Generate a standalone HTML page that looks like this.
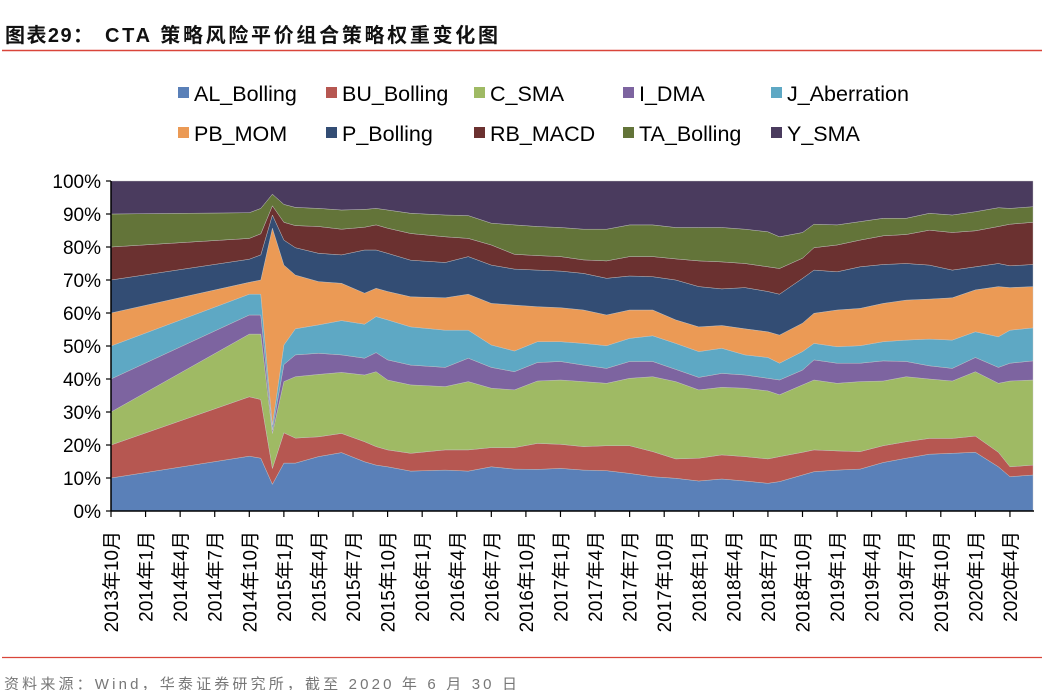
<!DOCTYPE html>
<html><head><meta charset="utf-8"><style>
body{margin:0;background:#fff;}
svg{display:block;font-family:"Liberation Sans","Noto Sans CJK SC",sans-serif;}
</style></head><body>
<svg id="chart" width="1042" height="690" viewBox="0 0 1042 690">
<text x="5" y="42" font-size="20" font-weight="bold" fill="#111" textLength="88" lengthAdjust="spacing">图表29：</text>
<text x="105" y="42" font-size="20" font-weight="bold" fill="#111" textLength="393" lengthAdjust="spacing">CTA 策略风险平价组合策略权重变化图</text>
<line x1="2" y1="50.5" x2="1042" y2="50.5" stroke="#d9453a" stroke-width="1.5"/>
<g id="legend"></g>
<g id="areas"></g>
<g id="axes"></g>
<line x1="2" y1="657.5" x2="1042" y2="657.5" stroke="#d9453a" stroke-width="1.2"/>
<text x="4" y="689" font-size="15" fill="#777" textLength="513" lengthAdjust="spacing">资料来源：Wind，华泰证券研究所，截至 2020 年 6 月 30 日</text>
</svg>
<script>
const months=[0,12,13,14,15,16,18,20,22,23,24,26,29,31,33,35,37,39,41,43,45,47,49,51,53,55,57,58,60,61,63,65,67,69,71,73,75,77,78,80];
const seriesNames=["AL_Bolling","BU_Bolling","C_SMA","I_DMA","J_Aberration","PB_MOM","P_Bolling","RB_MACD","TA_Bolling","Y_SMA"];
const AL=[10,16.6,16,8.1,14.5,14.5,16.5,17.7,14.9,13.9,13.4,12.1,12.4,12.1,13.4,12.7,12.6,12.9,12.4,12.2,11.4,10.4,9.9,9.1,9.7,9.1,8.4,8.9,10.9,11.9,12.4,12.7,14.7,16,17.2,17.5,17.8,13.4,10.4,10.9];
const BU=[10,18,17.8,4.8,9.2,7.6,6,5.8,6.1,5.6,5.1,5.4,6.1,6.4,5.8,6.5,7.9,7.3,7.1,7.6,8.4,7.6,5.9,6.9,7.3,7.4,7.4,7.6,6.9,6.6,5.8,5.3,5.1,5,4.8,4.5,4.9,4.4,3,3];
const C=[10,19,19.8,10.6,15.5,18.6,18.9,18.5,20.2,22.7,21.2,20.7,19.2,20.7,18,17.5,18.9,19.5,19.7,18.9,20.4,22.7,23.4,20.7,20.5,20.7,20.6,18.7,20.4,21.2,20.5,21.2,19.6,19.7,18,17.4,19.5,20.9,26,25.8];
const I=[10,5.8,5.8,1,5.2,6.6,6.4,5.3,5.1,5.8,6.1,6,5.8,7.1,6.3,5.5,5.6,5.6,5,4.5,5.1,4.6,3.7,3.8,4.2,4,3.8,4.5,4.5,6.1,6.1,5.6,6.1,4.6,4,3.8,4.3,4.8,5.4,5.8];
const J=[10,6.3,6.3,1.5,5.9,7.9,8.6,10.4,10.3,10.9,12.1,11.6,11.3,8.5,6.8,6.3,6.3,6,6.6,6.9,7,7.8,7.9,7.8,7.6,6.1,6.3,5.1,5.6,5,5,5.3,5.8,6.5,8.1,8.6,7.8,9.3,10,10];
const PB=[10,3.6,4.3,59.7,24.2,16.3,13.1,11.3,9.4,8.6,8.6,9.1,9.8,10.9,12.6,13.9,10.6,10.3,10.1,9.3,8.6,7.8,7.1,7.5,6.9,7.9,7.8,8.5,8.6,9.1,11.1,11.3,11.6,12.1,12.1,12.8,12.7,15.2,12.9,12.5];
const P=[10,7,7.6,4,7.6,8.3,8.6,8.6,13.1,11.6,11.6,11.1,10.7,11.4,11.6,10.9,11.1,11.1,11.1,11.1,10.3,10.1,12.1,12.2,11.1,12.5,12.2,12.4,13.6,13.1,11.6,12.6,11.8,11.1,10.3,8.4,7,7,6.6,6.7];
const RB=[10,6.3,6.4,2.8,5.4,6.7,8.1,7.8,6.9,7.6,7.6,8.1,7.8,5.5,6.1,4.5,4.4,4.4,4.1,5.3,5.9,6.1,6.4,7.8,8.2,7.3,7.5,7.8,6.1,6.8,8.1,8.1,8.7,8.8,10.6,11.4,10.9,11.2,12.6,12.8];
const TA=[10,7.8,7.7,3.5,5.4,5.5,5.5,5.8,5.4,5,5.5,6.1,6.6,6.9,6.6,8.9,8.8,8.8,9.3,9.6,9.6,9.6,9.5,10.1,10.4,10.4,10.6,9.6,7.8,7.1,6.1,5.6,5.3,4.9,5.1,5.3,5.8,5.7,4.8,4.7];
const Y=[10,9.6,8.3,4,7.1,8,8.3,8.8,8.6,8.3,8.8,9.8,10.3,10.5,12.8,13.3,13.8,14.1,14.6,14.6,13.3,13.3,14.1,14.1,14.1,14.6,15.4,16.9,15.6,13.1,13.3,12.3,11.3,11.3,9.8,10.3,9.3,8.1,8.3,7.8];
const yTicks=["0%","10%","20%","30%","40%","50%","60%","70%","80%","90%","100%"];
const xTickLabels=["2013年10月","2014年1月","2014年4月","2014年7月","2014年10月","2015年1月","2015年4月","2015年7月","2015年10月","2016年1月","2016年4月","2016年7月","2016年10月","2017年1月","2017年4月","2017年7月","2017年10月","2018年1月","2018年4月","2018年7月","2018年10月","2019年1月","2019年4月","2019年7月","2019年10月","2020年1月","2020年4月"];
const colors=["#5a80b8","#b65751","#9fba64","#7d64a0","#5ea8c4","#eb9a55","#334d74","#6b3130","#637439","#4a3b5e"];
const NS="http://www.w3.org/2000/svg";
const X0=111,XM=11.525,Y0=511,YH=330;
const xs=m=>X0+m*XM;
const ys=p=>Y0-p/100*YH;
const all=[AL,BU,C,I,J,PB,P,RB,TA,Y];
const totals=months.map((_,i)=>all.reduce((s,a)=>s+a[i],0));
const areas=document.getElementById('areas');
let lower=months.map(()=>0);
all.forEach((arr,k)=>{
  const upper=lower.map((v,i)=>v+arr[i]/totals[i]*100);
  let d="M"+months.map((m,i)=>xs(m).toFixed(1)+","+ys(upper[i]).toFixed(1)).join(" L");
  for(let i=months.length-1;i>=0;i--) d+=" L"+xs(months[i]).toFixed(1)+","+ys(lower[i]).toFixed(1);
  d+="Z";
  const p=document.createElementNS(NS,'path');
  p.setAttribute('d',d);p.setAttribute('fill',colors[k]);
  p.setAttribute('stroke','#c8c8c8');p.setAttribute('stroke-width','0.4');
  
  
  areas.appendChild(p);
  lower=upper;
});
const ax=document.getElementById('axes');
function mk(tag,attrs,txt){const e=document.createElementNS(NS,tag);for(const k in attrs)e.setAttribute(k,attrs[k]);if(txt!==undefined)e.textContent=txt;ax.appendChild(e);return e;}
const yl=mk('line',{x1:X0,y1:ys(100),x2:X0,y2:Y0,stroke:'#000','stroke-width':1.5});


const xl=mk('line',{x1:X0,y1:Y0,x2:1034,y2:Y0,stroke:'#000','stroke-width':1.5});


yTicks.forEach((t,i)=>{
  const yy=ys(i*10);
  const tk=mk('line',{x1:X0-5,y1:yy,x2:X0,y2:yy,stroke:'#000','stroke-width':1.2});
  
  
  const tx=mk('text',{x:101,y:yy+7,'font-size':19,'text-anchor':'end',fill:'#000'},t);
  
  
});
xTickLabels.forEach((t,i)=>{
  const xx=xs(i*3);
  const tk=mk('line',{x1:xx,y1:Y0,x2:xx,y2:Y0+6,stroke:'#000','stroke-width':1.2});
  
  
  const tx=mk('text',{x:0,y:0,'font-size':19,'text-anchor':'end',fill:'#000',transform:`translate(${xx+7},${Y0+20}) rotate(-90)`},t);
  
  
});
const lg=document.getElementById('legend');
const colX=[178,326,474,623,771];
seriesNames.forEach((n,k)=>{
  const cx=colX[k%5],cy=k<5?93:133;
  const r=document.createElementNS(NS,'rect');
  r.setAttribute('x',cx);r.setAttribute('y',cy-6);r.setAttribute('width',11);r.setAttribute('height',11);r.setAttribute('fill',colors[k]);
  
  
  lg.appendChild(r);
  const t=document.createElementNS(NS,'text');
  t.setAttribute('x',cx+16);t.setAttribute('y',cy+8);t.setAttribute('font-size',21.5);t.setAttribute('fill','#000');
  t.textContent=n;
  
  
  lg.appendChild(t);
});
</script>
</body></html>
